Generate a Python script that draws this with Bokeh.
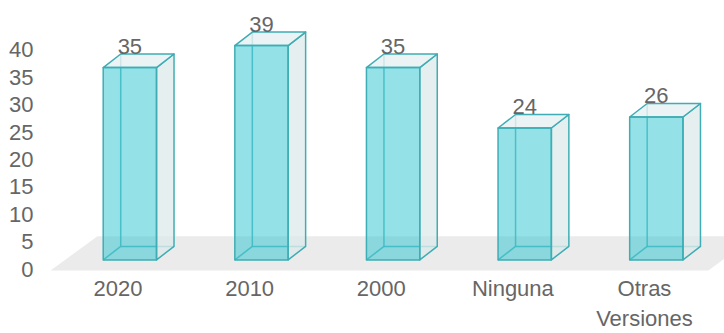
from bokeh.plotting import figure
from bokeh.models import ColumnDataSource, Range1d, LinearAxis, FixedTicker
from bokeh.core.properties import value
from bokeh.embed import file_html
from bokeh.resources import INLINE

# ---- data ----
categories = ["2020", "2010", "2000", "Ninguna", "Otras\nVersiones"]
values = [35, 39, 35, 24, 26]
y_ticks = [0, 5, 10, 15, 20, 25, 30, 35, 40]

# ---- style / geometry ----
FONT = "Liberation Sans"
TXT = "#666666"
FRONT_FILL = "#2ac4cf"
EDGE = "#3fadb3"
SIDE_FILL = "#dce9ea"
TOP_FILL = "#e6f0f1"
FLOOR = "#ebebeb"
BAR_W = 0.405     # category units
DX = 0.133        # depth offset in category units
DY = 2.46         # depth offset in value units

n = len(categories)
idx = list(range(n))

p = figure(width=724, height=333, output_backend="svg", toolbar_location=None,
           x_axis_location=None, y_axis_location=None,
           x_range=Range1d(-0.641, 4.518), y_range=Range1d(-3.02, 47.2),
           min_border_left=45, min_border_right=0, min_border_top=0,
           min_border_bottom=0)
p.outline_line_color = None
p.grid.visible = False
p.background_fill_color = "white"
p.border_fill_color = "white"

# extra ranges for the axes (labels sit slightly offset from the 3D bars)
p.extra_x_ranges = {"xa": Range1d(-0.641 + 0.09, 4.518 + 0.09)}
p.extra_y_ranges = {"ya": Range1d(-3.02 + 1.73, 47.2 + 1.73)}

# floor
p.patch(x=[-0.603, n - 1 + 0.395, n - 1 + 0.753, -0.246],
        y=[-1.92, -1.92, 4.29, 4.29], fill_color=FLOOR, line_color=None)

# geometry from the values
xl = [i - BAR_W / 2 for i in idx]
xr = [i + BAR_W / 2 for i in idx]

hid_xs, hid_ys = [], []
for a, b, v in zip(xl, xr, values):
    hid_xs += [[a + DX, a + DX], [a + DX, b + DX], [a, a + DX]]
    hid_ys += [[DY, v + DY], [DY, DY], [0, DY]]
p.multi_line(xs=hid_xs, ys=hid_ys, line_color=EDGE, line_width=1.5, line_alpha=0.8)

side = ColumnDataSource(dict(
    xs=[[b, b + DX, b + DX, b] for b in xr],
    ys=[[0, DY, v + DY, v] for v in values]))
p.patches("xs", "ys", source=side, fill_color=SIDE_FILL, fill_alpha=0.75,
          line_color=EDGE, line_width=1.5, line_join="round")

top = ColumnDataSource(dict(
    xs=[[a, a + DX, b + DX, b] for a, b in zip(xl, xr)],
    ys=[[v, v + DY, v + DY, v] for v in values]))
p.patches("xs", "ys", source=top, fill_color=TOP_FILL, fill_alpha=0.8,
          line_color=EDGE, line_width=1.5, line_join="round")

p.vbar(x=idx, top=values, bottom=0, width=BAR_W, fill_color=FRONT_FILL,
       fill_alpha=0.5, line_color=EDGE, line_width=1.5, line_join="round")

# data labels
p.text(x=idx, y=values, text=[str(v) for v in values], text_align="center",
       text_baseline="bottom", y_offset=-14, text_color=TXT,
       text_font=value(FONT), text_font_size="22px")

# axes
xaxis = LinearAxis(x_range_name="xa", ticker=FixedTicker(ticks=idx),
                   major_label_overrides={i: c for i, c in zip(idx, categories)})
yaxis = LinearAxis(y_range_name="ya", ticker=FixedTicker(ticks=y_ticks))
for ax in (xaxis, yaxis):
    ax.axis_line_color = None
    ax.major_tick_line_color = None
    ax.minor_tick_line_color = None
    ax.major_tick_in = 0
    ax.major_tick_out = 0
    ax.major_label_text_color = TXT
    ax.major_label_text_font = FONT
    ax.major_label_text_font_size = "22px"
xaxis.major_label_standoff = -1
xaxis.major_label_text_line_height = 1.2
yaxis.major_label_standoff = 12
p.add_layout(xaxis, "below")
p.add_layout(yaxis, "left")

open("out.html", "w").write(file_html(p, INLINE))
